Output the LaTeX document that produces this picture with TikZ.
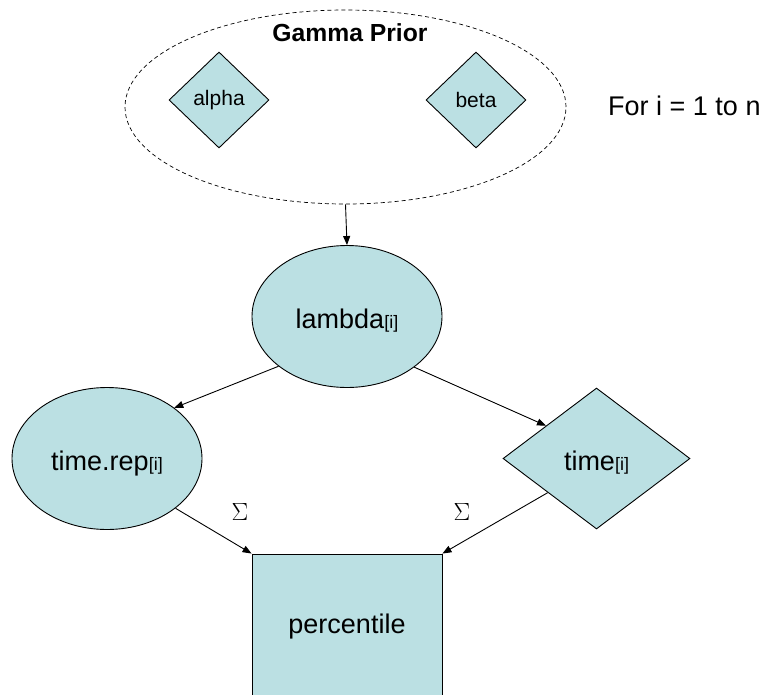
\documentclass[tikz,border=0pt]{standalone}
\usepackage{fontspec}
\setmainfont{Liberation Sans}
\usetikzlibrary{shapes.geometric,arrows.meta}
\definecolor{nodefill}{RGB}{187,224,227}
\newcommand{\subi}{{\fontsize{18}{20}\selectfont[i]}}
\tikzset{
  base/.style={draw=black, line width=0.9pt, fill=nodefill, inner sep=0pt, font=\fontsize{27}{32}\selectfont},
  ovalnode/.style={base, ellipse, minimum width=190pt, minimum height=142pt, text height=24pt, text depth=0pt},
  bigdiamond/.style={base, diamond, minimum width=187pt, minimum height=141pt, text height=24pt, text depth=0pt},
  smalldiamond/.style={base, diamond, minimum width=100pt, minimum height=96pt, font=\fontsize{21}{25}\selectfont},
  boxnode/.style={base, rectangle, minimum width=190pt, minimum height=146pt},
  conn/.style={draw=black, line width=0.9pt, -{Triangle[length=9pt,width=7pt]}},
  sigmalabel/.style={font=\fontsize{24}{28}\selectfont, inner sep=0pt}
}
\begin{document}
\begin{tikzpicture}[x=1pt,y=-1pt]
\useasboundingbox (0,0) rectangle (769,694);
\clip (0,0) rectangle (769,694);
% prior plate
\node[ellipse, draw=black, line width=0.7pt, dash pattern=on 4pt off 3pt,
      minimum width=441pt, minimum height=194pt, inner sep=0pt] (prior) at (345.5,107) {};
\node[font=\bfseries\fontsize{24.7}{28}\selectfont, inner sep=0pt] (gtitle) at (350,33) {Gamma Prior};
\node[smalldiamond] (alpha) at (219,100) {alpha};
\node[smalldiamond] (beta) at (476,100) {beta};
\node[anchor=west, inner sep=0pt, font=\fontsize{27}{32}\selectfont] (loop) at (608,106) {For i = 1 to n};
% main nodes
\node[ovalnode] (lambda) at (347,316.5) {lambda\subi};
\node[ovalnode] (timerep) at (107,458.5) {time.rep\subi};
\node[bigdiamond] (time) at (596.5,458.5) {time\subi};
\node[boxnode] (perc) at (347,627) {percentile};
% sigma labels
\node[sigmalabel] (sigL) at (240,512) {$\Sigma$};
\node[sigmalabel] (sigR) at (462,512) {$\Sigma$};
% connectors
\draw[conn] (prior.south) -- (lambda.north);
\draw[conn] (lambda.216) -- (timerep.37);
\draw[conn] (lambda.-37) -- (time.147);
\draw[conn] (timerep.-36) -- (perc.north west);
\draw[conn] (time.215) -- (perc.north east);
\end{tikzpicture}
\end{document}
